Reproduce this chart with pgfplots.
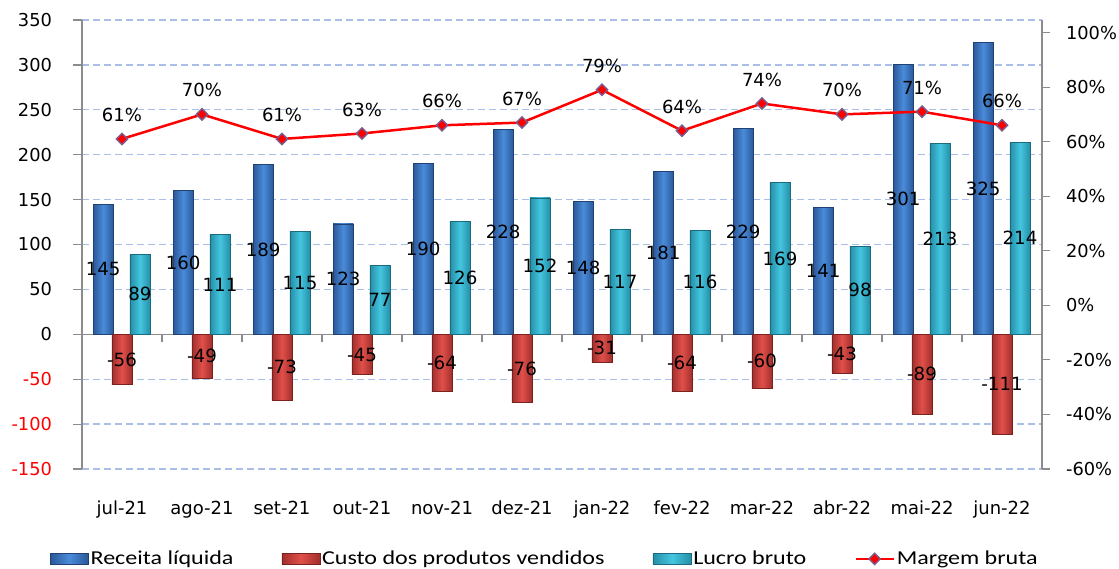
\documentclass[border=0pt]{standalone}
\usepackage{fontspec}
\setmainfont{DejaVu Sans}
\newfontfamily\legendfont{Carlito}[FakeStretch=1.22]
\usepackage{pgfplots}
\usepackage{pgfplotstable}
\pgfplotsset{compat=1.18}

\definecolor{blueE}{HTML}{2A5898}
\definecolor{blueM}{HTML}{4A8BDA}
\definecolor{redE}{HTML}{A12E2B}
\definecolor{redM}{HTML}{E0504A}
\definecolor{cyanE}{HTML}{258EA7}
\definecolor{cyanM}{HTML}{45C6E0}
\definecolor{gridblue}{HTML}{A9BFE8}
\definecolor{axisgray}{HTML}{8C8C8C}
\definecolor{markedge}{HTML}{7A5C8E}

\pgfplotsset{
  barleg/.style={legend image code/.code={\draw[##1] (0pt,-2.8pt) rectangle (19pt,2.8pt);}},
  lineleg/.style={legend image code/.code={\draw[##1, mark repeat=2, mark phase=2] plot coordinates {(0pt,0pt) (9.5pt,0pt) (19pt,0pt)};}},
  lbl/.style={forget plot, draw=none, no marks, nodes near coords, point meta=explicit symbolic,
    nodes near coords style={anchor=center, font=\fontsize{9.1}{10}\selectfont, text=black}},
  bluebar/.style={left color=blueE, right color=blueE, middle color=blueM, draw=blueE!75!black, line width=0.3pt},
  redbar/.style={left color=redE, right color=redE, middle color=redM, draw=redE!75!black, line width=0.3pt},
  cyanbar/.style={left color=cyanE, right color=cyanE, middle color=cyanM, draw=cyanE!75!black, line width=0.3pt},
  marg/.style={red, line width=1.25pt, mark=square*, mark size=2pt,
    mark options={rotate=45, fill=red, draw=markedge, line width=0.7pt}},
}

\pgfplotstableread{
x rec cus luc mar
0 145 -56 89 61
1 160 -49 111 70
2 189 -73 115 61
3 123 -45 77 63
4 190 -64 126 66
5 228 -76 152 67
6 148 -31 117 79
7 181 -64 116 64
8 229 -60 169 74
9 141 -43 98 70
10 301 -89 213 71
11 325 -111 214 66
}\data

\begin{document}
\begin{tikzpicture}
\useasboundingbox (0,0) rectangle (559.5pt,284pt);
\begin{axis}[
  at={(41pt,49.5pt)}, anchor=south west,
  scale only axis, width=480pt, height=224.5pt,
  xmin=-0.5, xmax=11.5, ymin=-150, ymax=350,
  axis y line*=left, axis x line*=bottom,
  x axis line style={draw=none},
  y axis line style={draw=axisgray, line width=0.7pt, -},
  tick align=outside, major tick length=4.5pt,
  ytick={-150,-100,...,350},
  yticklabels={\textcolor{red}{-150},\textcolor{red}{-100},\textcolor{red}{-50},0,50,100,150,200,250,300,350},
  ytick style={draw=axisgray, line width=0.6pt},
  yticklabel style={font=\fontsize{8.9}{10}\selectfont, xshift=-7pt},
  ymajorgrids,
  major grid style={gridblue, dash pattern=on 3.5pt off 2pt, line width=0.65pt},
  xtick={0,...,11},
  xticklabels={jul-21,ago-21,set-21,out-21,nov-21,dez-21,jan-22,fev-22,mar-22,abr-22,mai-22,jun-22},
  xtick style={draw=none},
  xticklabel style={font=\fontsize{9}{10}\selectfont, anchor=base, inner sep=0pt, yshift=-18pt},
  legend columns=4,
  legend style={draw=none, fill=none, inner sep=0pt, outer sep=0pt, anchor=west,
    at={(axis description cs:-0.0333,-0.2)},
    font=\legendfont\fontsize{9.85}{11}\selectfont,
    nodes={inner sep=1pt},
    /tikz/every even column/.append style={column sep=23pt}},
  legend cell align=left,
]
\draw[axisgray, line width=0.7pt] (axis cs:-0.5,0) -- (axis cs:11.5,0);
\pgfplotsinvokeforeach{-0.5,0.5,1.5,2.5,3.5,4.5,5.5,6.5,7.5,8.5,9.5,10.5,11.5}
  {\draw[axisgray, line width=0.6pt] (axis cs:#1,0) -- ++(0pt,-4pt);}
\pgfplotsinvokeforeach{0,...,11}{
  \addplot[ybar, forget plot, bar width=0.255, bar shift=-0.235, bluebar]
    table[x=x, y=rec, restrict expr to domain={\coordindex}{#1:#1}] {\data};
  \addplot[ybar, forget plot, bar width=0.255, bar shift=0, redbar]
    table[x=x, y=cus, restrict expr to domain={\coordindex}{#1:#1}] {\data};
  \addplot[ybar, forget plot, bar width=0.255, bar shift=0.225, cyanbar]
    table[x=x, y=luc, restrict expr to domain={\coordindex}{#1:#1}] {\data};
}
\addlegendimage{bluebar, barleg}
\addlegendentry{Receita líquida}
\addlegendimage{redbar, barleg}
\addlegendentry{Custo dos produtos vendidos}
\addlegendimage{cyanbar, barleg}
\addlegendentry{Lucro bruto}
\addlegendimage{marg, lineleg}
\addlegendentry{Margem bruta}
% data labels centred in the bars
\addplot[lbl] table[x expr=\thisrow{x}-0.235, y expr=\thisrow{rec}/2, meta=rec] {\data};
\addplot[lbl] table[x=x, y expr=\thisrow{cus}/2, meta=cus] {\data};
\addplot[lbl] table[x expr=\thisrow{x}+0.225, y expr=\thisrow{luc}/2, meta=luc] {\data};
\end{axis}

\begin{axis}[
  at={(41pt,49.5pt)}, anchor=south west,
  scale only axis, width=480pt, height=224.5pt,
  xmin=-0.5, xmax=11.5, ymin=-60, ymax=104.6,
  axis y line*=right, axis x line=none,
  y axis line style={draw=axisgray, line width=0.7pt, -},
  tick align=outside, major tick length=4pt,
  ytick={-60,-40,...,100},
  yticklabels={-60\%,-40\%,-20\%,0\%,20\%,40\%,60\%,80\%,100\%},
  ytick style={draw=axisgray, line width=0.6pt},
  yticklabel style={font=\fontsize{8.9}{10}\selectfont, xshift=4.5pt},
]
\addplot[marg,
  nodes near coords={\pgfplotspointmeta\%}, point meta=explicit symbolic,
  nodes near coords style={anchor=center, yshift=12pt, font=\fontsize{9}{10}\selectfont, text=black}]
  table[x=x, y=mar, meta=mar] {\data};
\end{axis}
\end{tikzpicture}
\end{document}
